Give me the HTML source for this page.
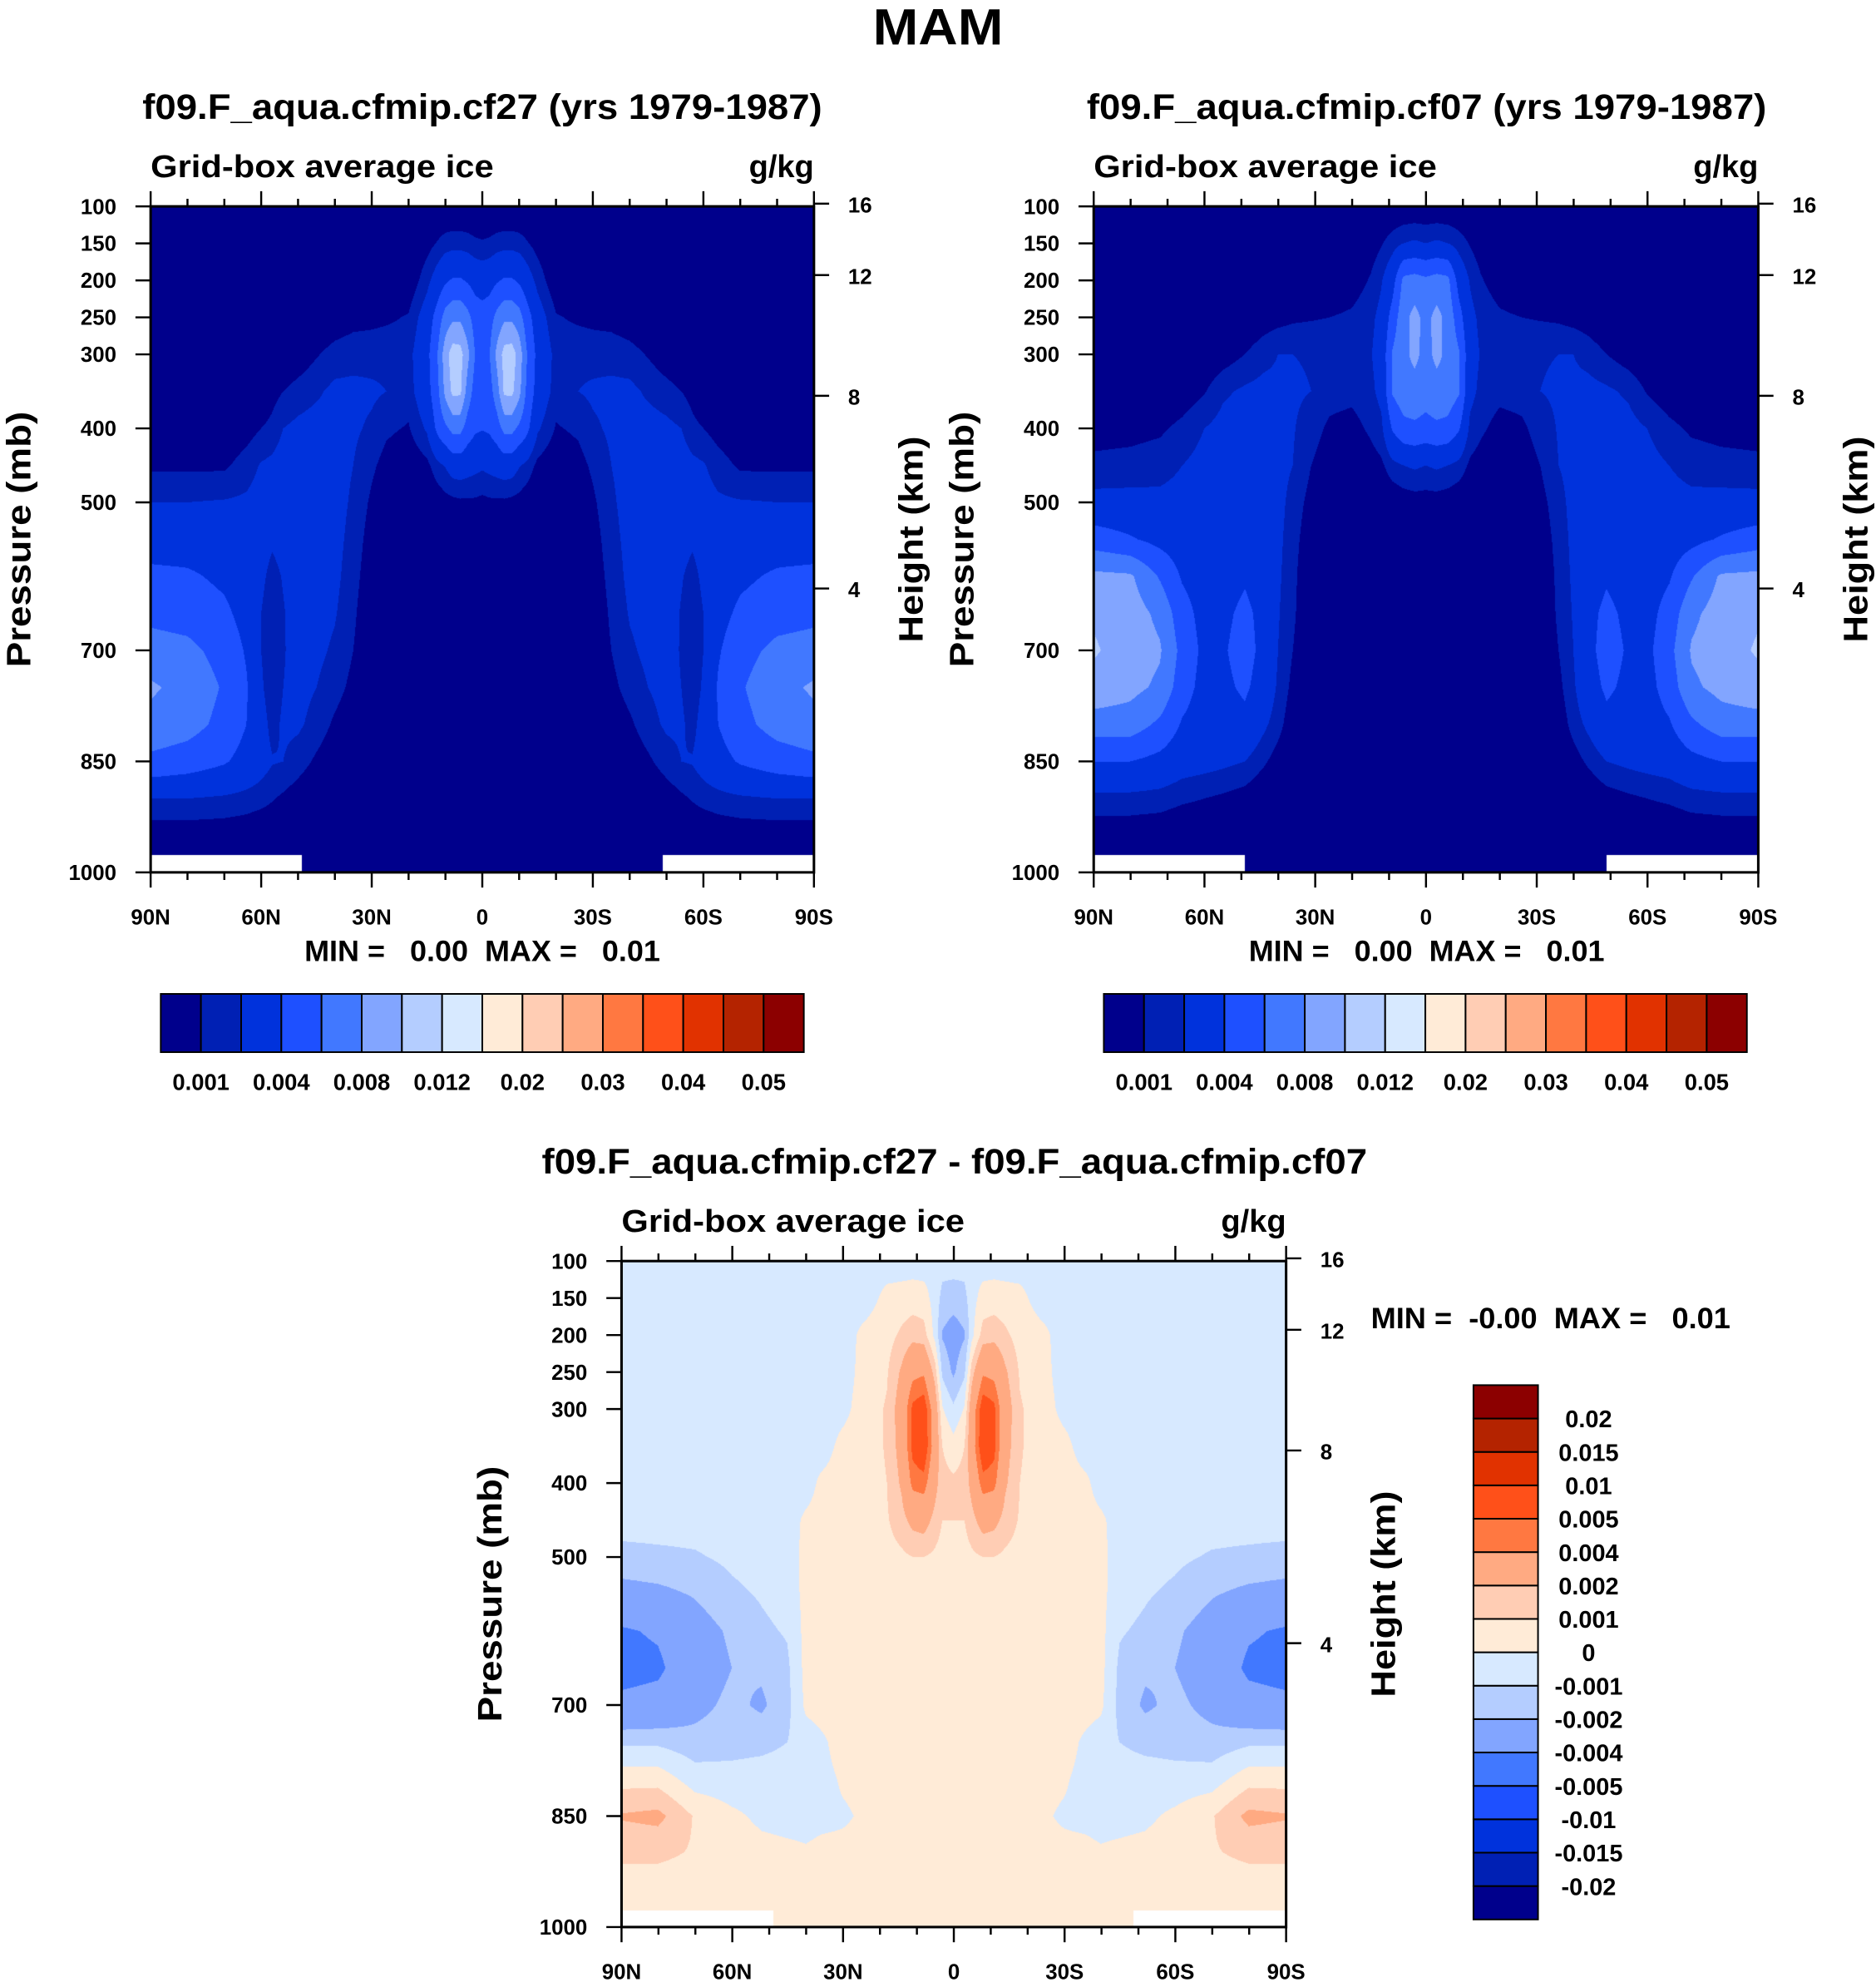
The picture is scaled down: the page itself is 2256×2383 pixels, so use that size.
<!DOCTYPE html>
<html><head><meta charset="utf-8"><style>
html,body{margin:0;padding:0;background:#fff;}
#wrap{position:relative;width:2256px;height:2383px;overflow:hidden;background:#fff;}
canvas{position:absolute;}
svg{position:absolute;left:0;top:0;}
text{font-family:"Liberation Sans",sans-serif;font-weight:bold;fill:#000;white-space:pre;}
</style></head><body>
<div id="wrap">
<canvas id="c1"></canvas>
<canvas id="c2"></canvas>
<canvas id="c3"></canvas>
<svg id="svg" width="2256" height="2383" viewBox="0 0 1482 1565.4" preserveAspectRatio="none">
<text x="741" y="35" font-size="40" text-anchor="middle" textLength="103" lengthAdjust="spacingAndGlyphs">MAM</text>
<text x="381" y="94" font-size="28" text-anchor="middle" textLength="537" lengthAdjust="spacingAndGlyphs">f09.F_aqua.cfmip.cf27 (yrs 1979-1987)</text>
<text x="1127" y="94" font-size="28" text-anchor="middle" textLength="537" lengthAdjust="spacingAndGlyphs">f09.F_aqua.cfmip.cf07 (yrs 1979-1987)</text>
<text x="754" y="927" font-size="28" text-anchor="middle" textLength="652" lengthAdjust="spacingAndGlyphs">f09.F_aqua.cfmip.cf27 - f09.F_aqua.cfmip.cf07</text>
<g id="axes"></g>
</svg>
</div>
<script>
// ---------- data ----------
const pRows=[100,150,200,250,300,350,400,450,500,550,600,650,700,750,800,850,900,950,1000];
const pTicks=[100,150,200,250,300,400,500,700,850,1000];
const latTicks=[90,60,30,0,-30,-60,-90];
const latTickLabels=["90N","60N","30N","0","30S","60S","90S"];
const heightTicks=[16,12,8,4];
const levelsIce=[1,2,4,6,8,10,12,15,20,25,30,35,40,45,50];
const levelsDiff=[-20,-15,-10,-5,-4,-2,-1,0,1,2,4,5,10,15,20];
const iceLabels=["0.001","0.004","0.008","0.012","0.02","0.03","0.04","0.05"];
const diffLabels=["-0.02","-0.015","-0.01","-0.005","-0.004","-0.002","-0.001","0","0.001","0.002","0.004","0.005","0.01","0.015","0.02"];
const palette=["#00008c","#0020b4","#0032dc","#1e50ff","#4178ff","#82a5ff","#b4cdff","#d7e9ff","#ffebd7","#ffcdb4","#ffaa82","#ff7841","#ff5019","#e13200","#b42300","#8c0000"];
// panel 1 (cf27), northern half columns, values x1e-3 g/kg, rows = pRows
const lat1=[90,80,70,64,60,57,54,50,45,40,35,30,26,20,15,12,10,8,6,4,2,0];
const val1=[
[0,0,0,0,0,0,0,0.8,2.0,3.0,4.5,5.5,6.8,8.3,7.4,5.5,2.0,0.3,0],
[0,0,0,0,0,0,0,0.8,2.0,3.0,4.3,5.2,6.5,7.3,6.8,5.0,2.0,0.3,0],
[0,0,0,0,0,0,0,0.8,2.1,3.0,3.6,4.4,5.3,5.8,5.4,4.2,1.8,0.3,0],
[0,0,0,0,0,0,0.5,1.5,2.2,2.9,3.0,3.3,3.8,4.2,4.0,3.3,1.6,0.2,0],
[0,0,0,0,0,0,1.0,2.1,2.5,2.6,2.3,2.0,2.0,2.2,2.6,2.6,1.4,0,0],
[0,0,0,0,0,0.6,1.3,2.3,2.5,2.2,1.6,1.3,1.3,1.3,1.6,2.1,1.1,0,0],
[0,0,0,0,0,1.0,2.0,2.6,2.7,2.5,2.1,1.9,1.9,2.0,2.2,2.0,0.8,0,0],
[0,0,0,0,0.3,1.4,2.3,2.7,2.8,2.8,2.7,2.6,2.5,2.4,2.2,1.5,0.4,0,0],
[0,0,0,0,0.9,1.8,2.5,2.7,2.8,2.7,2.6,2.5,2.3,2.0,1.6,0.8,0,0,0],
[0,0,0,0.3,1.4,2.3,2.5,2.5,2.5,2.4,2.3,2.1,1.8,1.4,0.8,0.2,0,0,0],
[0,0,0,0.6,1.6,2.3,2.2,2.0,1.8,1.6,1.4,1.2,1.0,0.7,0.3,0,0,0,0],
[0,0,0,0.7,1.6,2.2,1.8,1.2,0.8,0.5,0.3,0.1,0,0,0,0,0,0,0],
[0,0,0,0.8,1.7,2.0,1.2,0.6,0.2,0,0,0,0,0,0,0,0,0,0],
[0,0,0.2,1.1,1.6,1.5,0.9,0.2,0,0,0,0,0,0,0,0,0,0,0],
[0,0.6,1.6,2.8,3.4,3.2,2.2,0.7,0,0,0,0,0,0,0,0,0,0,0],
[0,1.1,2.8,5.0,6.2,5.7,4.6,1.7,0.3,0,0,0,0,0,0,0,0,0,0],
[0,1.4,3.7,6.8,9.2,8.6,5.6,2.1,0.6,0,0,0,0,0,0,0,0,0,0],
[0,1.5,4.2,7.6,11.0,10.5,6.6,2.7,0.7,0,0,0,0,0,0,0,0,0,0],
[0,1.5,4.2,7.6,10.8,10.4,6.6,2.8,0.8,0,0,0,0,0,0,0,0,0,0],
[0,1.4,3.8,6.6,8.6,7.2,5.1,2.6,0.8,0,0,0,0,0,0,0,0,0,0],
[0,1.2,3.2,5.2,6.0,5.2,4.3,2.4,0.8,0,0,0,0,0,0,0,0,0,0],
[0,1.1,3.0,4.8,5.2,4.8,4.1,2.2,0.7,0,0,0,0,0,0,0,0,0,0]];
// panel 2 (cf07)
const lat2=[90,80,72,66,60,55,49,44,40,36,31,26,20,15,12,9,6,3,0];
const val2=[
[0,0,0,0,0,0,0.5,1.3,2.4,5.0,8.5,9.8,10.2,9.4,7.0,4.0,1.6,0.3,0],
[0,0,0,0,0,0,0.6,1.4,2.4,4.2,8.3,9.0,9.2,8.6,7.0,4.0,1.6,0.3,0],
[0,0,0,0,0,0,0.8,1.6,2.3,3.4,5.8,7.5,8.2,7.6,5.6,3.4,1.5,0.2,0],
[0,0,0,0,0,0.3,1.3,2.0,2.4,2.9,3.8,4.8,5.4,4.9,3.8,2.7,1.2,0,0],
[0,0,0,0,0,0.9,2.0,2.4,2.6,2.8,3.0,3.3,3.5,3.3,3.0,2.5,1.0,0,0],
[0,0,0,0,0.4,1.8,2.4,2.6,2.8,2.9,3.2,3.6,3.8,3.6,3.1,2.3,0.8,0,0],
[0,0,0,0,1.0,2.2,2.6,2.8,2.9,3.2,3.8,4.4,4.7,4.3,3.5,2.0,0.5,0,0],
[0,0,0,0.4,1.6,2.4,2.6,2.7,2.8,2.9,3.2,3.5,3.5,3.2,2.3,1.2,0,0,0],
[0,0,0,0.6,2.0,2.3,2.4,2.4,2.4,2.3,2.2,2.1,2.0,1.8,1.4,0.5,0,0,0],
[0,0,0,0.8,2.0,2.2,2.1,2.0,1.6,1.4,1.3,1.2,1.0,0.7,0.3,0,0,0,0],
[0,0,0,0.9,1.9,2.0,1.4,1.0,0.6,0.3,0,0,0,0,0,0,0,0,0],
[0,0,0,1.0,1.8,1.4,0.8,0.4,0,0,0,0,0,0,0,0,0,0,0],
[0,0,0.4,1.2,1.6,1.3,0.6,0.1,0,0,0,0,0,0,0,0,0,0,0],
[0,0.4,1.1,1.7,1.9,1.7,1.2,0.5,0,0,0,0,0,0,0,0,0,0,0],
[0,0.9,1.9,2.4,2.6,2.4,1.7,0.8,0,0,0,0,0,0,0,0,0,0,0],
[0,1.5,3.2,4.8,6.2,6.2,4.2,1.6,0.2,0,0,0,0,0,0,0,0,0,0],
[0,2.0,6.5,7.4,7.6,7.2,5.4,2.0,0.4,0,0,0,0,0,0,0,0,0,0],
[0,2.2,6.8,8.6,8.4,7.4,5.6,2.2,0.5,0,0,0,0,0,0,0,0,0,0],
[0,2.0,6.4,7.4,7.5,6.9,5.3,2.0,0.5,0,0,0,0,0,0,0,0,0,0]];
// panel 3 (difference)
const lat3=[90,80,70,60,52,45,40,36,30,24,18,14,11,8,5,3,0];
const val3=[
[-.5,-.5,-.5,-.5,-.5,-.5,-.5,-.6,-1.3,-2.5,-4.2,-4.6,-3.6,-1.2,0.6,2.1,1.2,0.5,0.5],
[-.5,-.5,-.5,-.5,-.5,-.5,-.5,-.6,-1.2,-2.3,-3.8,-4.3,-3.4,-1.2,0.6,2.3,1.2,0.5,0.5],
[-.5,-.5,-.5,-.5,-.5,-.5,-.5,-.6,-1.1,-1.9,-2.6,-2.8,-2.4,-1.6,-0.5,0.9,0.9,0.5,0.5],
[-.5,-.5,-.5,-.5,-.5,-.5,-.5,-.5,-0.8,-1.2,-1.8,-2.0,-1.7,-1.4,-0.6,0.2,0.6,0.5,0.5],
[-.5,-.5,-.5,-.5,-.5,-.5,-.5,-.5,-0.6,-0.9,-1.2,-1.8,-2.2,-1.3,-0.5,-0.2,0.3,0.4,0.5],
[-.5,-.5,-.5,-.5,-.5,-.5,-.5,-.5,-0.5,-0.6,-0.9,-1.2,-1.3,-1.0,-0.5,-0.3,0.2,0.3,0.5],
[-.5,-.5,-.5,-.5,-.5,-.5,-.5,0.2,0.3,0.3,0.3,0.3,0.2,-0.5,-0.5,-0.3,0.1,0.3,0.3],
[-.5,-.5,-.5,-.5,-.5,-.5,0.2,0.4,0.4,0.4,0.4,0.4,0.4,-0.2,-0.3,-0.2,0.2,0.3,0.3],
[-.5,-.5,-.5,-.5,-.3,0.3,0.4,0.4,0.4,0.4,0.4,0.4,0.4,0.4,0.1,-0.1,0.2,0.3,0.3],
[-.5,-.5,0.3,0.4,0.5,0.5,0.5,0.5,0.4,0.4,0.4,0.4,0.4,0.4,0.2,0.1,0.2,0.2,0.3],
[-.5,0.3,0.6,0.9,1.1,1.1,1.0,0.9,0.6,0.4,0.4,0.4,0.4,0.4,0.2,0.2,0.2,0.2,0.3],
[-.5,0.4,1.2,2.2,2.8,2.6,2.2,1.6,0.8,0.4,0.4,0.4,0.4,0.4,0.2,0.2,0.2,0.2,0.3],
[-.5,0.5,1.6,3.6,5.3,5.4,4.4,2.4,1.0,0.4,0.4,0.4,0.4,0.4,0.2,0.2,0.2,0.2,0.3],
[-.5,0.4,1.4,3.8,5.8,6.0,4.6,2.6,1.0,0.4,0.4,0.4,0.4,0.4,0.2,0.2,0.2,0.2,0.3],
[-.3,-.4,-.3,1.5,3.0,3.2,2.5,1.6,0.8,0.4,0.4,0.4,0.4,0.4,0.2,0.2,0.2,0.2,0.3],
[-.6,-1.3,-2.1,-1.2,0.1,1.0,1.3,1.0,0.6,0.4,0.4,0.4,0.4,0.4,0.2,0.2,0.2,0.2,0.3],
[-.5,-1.5,-2.6,-2.2,-0.8,0.4,1.2,1.0,0.6,0.4,0.4,0.4,0.4,0.4,0.2,0.2,0.2,0.2,0.3]];

// ---------- layout (display units; scaled to page by S) ----------
const S=2256/1482;
const panels=[
 {id:"c1",x0:119,x1:643,y0:163,y1:689,lats:lat1,vals:val1,levels:levelsIce,missLat:49,missP:976,name:"panel1"},
 {id:"c2",x0:864,x1:1389,y0:163,y1:689,lats:lat2,vals:val2,levels:levelsIce,missLat:49,missP:976,name:"panel2"},
 {id:"c3",x0:491,x1:1016,y0:996,y1:1522,lats:lat3,vals:val3,levels:levelsDiff,missLat:48.8,missP:978,name:"panel3"}];

function fullGrid(lats,vals){
  const L=lats.slice(),V=vals.slice();
  for(let i=lats.length-2;i>=0;i--){L.push(-lats[i]);V.push(vals[i]);}
  return {L,V};
}
function interp(g,lat,p){
  const L=g.L,V=g.V;let i=0;
  while(i<L.length-2&&lat<L[i+1])i++;
  let t=(L[i]-lat)/(L[i]-L[i+1]);t=Math.max(0,Math.min(1,t));
  let j=0;while(j<pRows.length-2&&p>pRows[j+1])j++;
  let u=(p-pRows[j])/(pRows[j+1]-pRows[j]);u=Math.max(0,Math.min(1,u));
  const a=V[i][j]*(1-u)+V[i][j+1]*u, b=V[i+1][j]*(1-u)+V[i+1][j+1]*u;
  return a*(1-t)+b*t;
}
function hexRGB(h){return [parseInt(h.substr(1,2),16),parseInt(h.substr(3,2),16),parseInt(h.substr(5,2),16)];}
const pal=palette.map(hexRGB);
function colorIdx(levels,v){let k=0;while(k<levels.length&&v>=levels[k])k++;return k;}

panels.forEach(P=>{
  const c=document.getElementById(P.id);
  const W=Math.round((P.x1-P.x0)*S),H=Math.round((P.y1-P.y0)*S);
  c.width=W;c.height=H;
  c.style.left=Math.round(P.x0*S)+"px";c.style.top=Math.round(P.y0*S)+"px";
  c.style.width=W+"px";c.style.height=H+"px";
  const ctx=c.getContext("2d");const img=ctx.createImageData(W,H);
  const g=fullGrid(P.lats,P.vals);
  for(let y=0;y<H;y++){
    const p=100+900*(y+0.5)/H;
    for(let x=0;x<W;x++){
      const lat=90-180*(x+0.5)/W;
      let rgb;
      if(Math.abs(lat)>=P.missLat&&p>=P.missP)rgb=[255,255,255];
      else rgb=pal[colorIdx(P.levels,interp(g,lat,p))];
      const o=(y*W+x)*4;img.data[o]=rgb[0];img.data[o+1]=rgb[1];img.data[o+2]=rgb[2];img.data[o+3]=255;
    }
  }
  ctx.putImageData(img,0,0);
});

// ---------- axes ----------
const NS="http://www.w3.org/2000/svg";
const ax=document.getElementById("axes");
function el(tag,attrs,txt,parent){const e=document.createElementNS(NS,tag);for(const k in attrs)e.setAttribute(k,attrs[k]);if(txt!==undefined)e.textContent=txt;(parent||ax).appendChild(e);return e;}
function hToP(z){return 1013.25*Math.pow(1-2.25577e-5*z*1000,5.25588);}

panels.forEach(P=>{
  const gp=el("g",{});
  
  
  const xs=lat=>P.x0+(90-lat)/180*(P.x1-P.x0);
  const ys=p=>P.y0+(p-100)/900*(P.y1-P.y0);
  const fr=el("rect",{x:P.x0,y:P.y0,width:P.x1-P.x0,height:P.y1-P.y0,fill:"none",stroke:"#000","stroke-width":2},undefined,gp);
  
  
  for(let lat=90;lat>=-90;lat-=10){
    const major=lat%30===0,len=major?12:6,x=xs(lat);
    el("line",{x1:x,x2:x,y1:P.y0,y2:P.y0-len,stroke:"#000","stroke-width":1.6},undefined,gp);
    el("line",{x1:x,x2:x,y1:P.y1,y2:P.y1+len,stroke:"#000","stroke-width":1.6},undefined,gp);
  }
  latTicks.forEach((lat,i)=>{
    const t=el("text",{x:xs(lat),y:P.y1+41,"font-size":17,"text-anchor":"middle"},latTickLabels[i],gp);
    
    
  });
  pTicks.forEach(p=>{
    const y=ys(p);
    el("line",{x1:P.x0,x2:P.x0-12,y1:y,y2:y,stroke:"#000","stroke-width":1.6},undefined,gp);
    const t=el("text",{x:P.x0-27,y:y+6,"font-size":17,"text-anchor":"end"},String(p),gp);
    
    
  });
  heightTicks.forEach(h=>{
    const y=ys(hToP(h));
    el("line",{x1:P.x1,x2:P.x1+12,y1:y,y2:y,stroke:"#000","stroke-width":1.6},undefined,gp);
    const t=el("text",{x:P.x1+27,y:y+7,"font-size":17,"text-anchor":"start"},String(h),gp);
    
    
  });
  const cy=(P.y0+P.y1)/2;
  const yt=el("text",{x:0,y:0,"font-size":27,"text-anchor":"middle",transform:`translate(${P.x0-95},${cy}) rotate(-90)`,textLength:202,lengthAdjust:"spacingAndGlyphs"},"Pressure (mb)",gp);
  
  
  const ht=el("text",{x:0,y:0,"font-size":27,"text-anchor":"middle",transform:`translate(${P.x1+86},${cy}) rotate(-90)`,textLength:163,lengthAdjust:"spacingAndGlyphs"},"Height (km)",gp);
  
  
  const st=el("text",{x:P.x0,y:P.y0-23,"font-size":25,textLength:271,lengthAdjust:"spacingAndGlyphs"},"Grid-box average ice",gp);
  
  
  const un=el("text",{x:P.x1,y:P.y0-23,"font-size":25,"text-anchor":"end"},"g/kg",gp);
  
  
});

// MIN/MAX labels
[[381,"MIN =   0.00  MAX =   0.01"],[1127,"MIN =   0.00  MAX =   0.01"]].forEach(m=>{
  const t=el("text",{x:m[0],y:759,"font-size":23,"text-anchor":"middle",textLength:281,lengthAdjust:"spacingAndGlyphs"},m[1]);
  
  
});
const mm3=el("text",{x:1083,y:1049,"font-size":23,textLength:284,lengthAdjust:"spacingAndGlyphs"},"MIN =  -0.00  MAX =   0.01");



// horizontal colorbars
[127,872].forEach((bx,pi)=>{
  const g=el("g",{});
  
  
  const w=(635-127)/palette.length;
  palette.forEach((col,i)=>{
    const r=el("rect",{x:bx+i*w,y:785,width:w,height:46,fill:col,stroke:"#000","stroke-width":1.3},undefined,g);
    
    
  });
  iceLabels.forEach((lab,k)=>{
    const t=el("text",{x:bx+w*(2*k+1),y:861,"font-size":18,"text-anchor":"middle"},lab,g);
    
    
  });
});
// vertical colorbar
(function(){
  const g=el("g",{});
  
  
  const top=1094,bot=1516,h=(bot-top)/palette.length;
  palette.forEach((col,i)=>{
    const r=el("rect",{x:1164,y:bot-(i+1)*h,width:51,height:h,fill:col,stroke:"#000","stroke-width":1.3},undefined,g);
    
    
  });
  diffLabels.forEach((lab,k)=>{
    const t=el("text",{x:1255,y:bot-(k+1)*h+7,"font-size":19,"text-anchor":"middle"},lab,g);
    
    
  });
})();
</script>
</body></html>
